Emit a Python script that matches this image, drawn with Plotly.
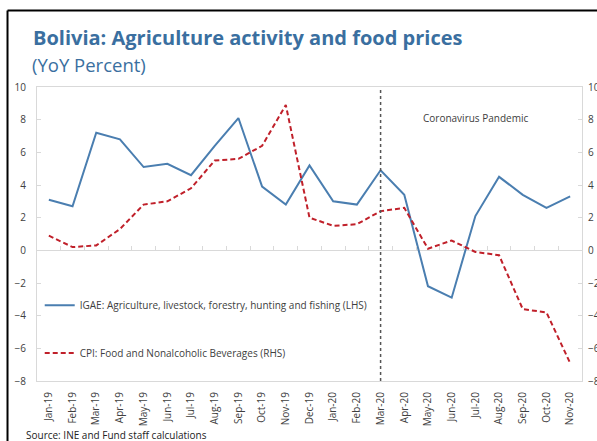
import plotly.graph_objects as go

months = ["Jan-19", "Feb-19", "Mar-19", "Apr-19", "May-19", "Jun-19", "Jul-19", "Aug-19",
          "Sep-19", "Oct-19", "Nov-19", "Dec-19", "Jan-20", "Feb-20", "Mar-20", "Apr-20",
          "May-20", "Jun-20", "Jul-20", "Aug-20", "Sep-20", "Oct-20", "Nov-20"]
igae = [3.1, 2.7, 7.2, 6.8, 5.1, 5.3, 4.6, 6.4, 8.1, 3.9, 2.8, 5.2, 3.0, 2.8, 4.9, 3.4,
        -2.2, -2.9, 2.1, 4.5, 3.4, 2.6, 3.3]
cpi = [0.9, 0.2, 0.3, 1.3, 2.8, 3.0, 3.8, 5.5, 5.6, 6.4, 8.9, 2.0, 1.5, 1.6, 2.4, 2.6,
       0.1, 0.6, -0.1, -0.3, -3.6, -3.8, -6.9]
y_range = [-8, 10]
y_ticks = [10, 8, 6, 4, 2, 0, -2, -4, -6, -8]
pandemic_start = "Mar-20"

BLUE = "#4a7eb0"
RED = "#c0202a"
TXT = "#404040"
GRID = "#d9d9d9"
FONT = "Open Sans"

fig = go.Figure()
fig.add_trace(go.Scatter(
    x=months, y=igae, mode="lines", name="IGAE: Agriculture, livestock, forestry, hunting and fishing (LHS)",
    line=dict(color=BLUE, width=2), legend="legend"))
fig.add_trace(go.Scatter(
    x=months, y=cpi, mode="lines", name="CPI: Food and Nonalcoholic Beverages (RHS)",
    line=dict(color=RED, width=2, dash="5px,3px"), yaxis="y2", legend="legend2"))
# helper trace to draw category-boundary ticks on the zero line
fig.add_trace(go.Scatter(x=months, y=[0] * len(months), mode="lines", opacity=0,
                         showlegend=False, hoverinfo="skip", xaxis="x2"))

zero_pos = (0 - y_range[0]) / (y_range[1] - y_range[0])

fig.update_layout(
    width=597, height=441,
    margin=dict(l=36.5, r=15.4, t=86.5, b=60, autoexpand=False),
    paper_bgcolor="white", plot_bgcolor="white",
    font=dict(family=FONT, size=10, color=TXT),
    xaxis=dict(type="category", categoryarray=months, range=[-0.5, len(months) - 0.5],
               showgrid=False, showline=True, linecolor=GRID, mirror=True,
               tickangle=-90, ticks="", ticklabelstandoff=6, automargin=False,
               tickfont=dict(size=10, color=TXT)),
    xaxis2=dict(type="category", categoryarray=months, range=[-0.5, len(months) - 0.5],
                overlaying="x", anchor="free", position=zero_pos, side="bottom",
                showgrid=False, showline=False, showticklabels=False, automargin=False,
                ticks="inside", tickson="boundaries", ticklen=4, tickcolor=GRID),
    yaxis=dict(range=y_range, tickvals=y_ticks, showgrid=False, showline=True,
               linecolor=GRID, mirror=True, zeroline=True, zerolinecolor=GRID,
               zerolinewidth=1, ticks="inside", ticklen=4, tickcolor=GRID, automargin=False,
               ticklabelstandoff=8, tickfont=dict(size=10, color=TXT)),
    yaxis2=dict(range=y_range, tickvals=y_ticks, overlaying="y", side="right",
                showgrid=False, showline=False, zeroline=False, ticks="inside",
                automargin=False, ticklen=4, tickcolor=GRID, ticklabelstandoff=5,
                tickfont=dict(size=10, color=TXT)),
    legend=dict(x=0.005, y=0.258, xanchor="left", yanchor="middle",
                bgcolor="rgba(0,0,0,0)", font=dict(size=10, color=TXT)),
    legend2=dict(x=0.005, y=0.095, xanchor="left", yanchor="middle",
                 bgcolor="rgba(0,0,0,0)", font=dict(size=10, color=TXT)),
    title=dict(text="<b>Bolivia: Agriculture activity and food prices</b>",
               x=33 / 597, xanchor="left", xref="container",
               y=1 - 38 / 441, yanchor="middle", yref="container",
               font=dict(family=FONT, size=20, color="#3a6fa0")),
    showlegend=True,
)

fig.add_shape(type="line", xref="x", yref="paper", x0=pandemic_start, x1=pandemic_start,
              y0=0, y1=1, line=dict(color="#555555", width=1.5, dash="dot"))

fig.add_annotation(text="Coronavirus Pandemic", xref="paper", yref="paper",
                   x=0.804, y=0.896, xanchor="center", yanchor="middle", showarrow=False,
                   font=dict(size=10, color=TXT))
fig.add_annotation(text="(YoY Percent)", xref="paper", yref="paper",
                   x=-0.012, y=1.076, xanchor="left", yanchor="middle", showarrow=False,
                   font=dict(size=18.5, color="#3a6fa0"))
fig.add_annotation(text="Source: INE and Fund staff calculations", xref="paper", yref="paper",
                   x=-0.024, y=-0.183, xanchor="left", yanchor="middle", showarrow=False,
                   font=dict(size=10, color="#222222"))

# black frame of the original screenshot (top and left edges)
fig.add_shape(type="line", xref="paper", yref="paper", x0=-0.0541, x1=1.05,
              y0=1.26, y1=1.26, line=dict(color="black", width=2))
fig.add_shape(type="line", xref="paper", yref="paper", x0=-0.0541, x1=-0.0541,
              y0=1.26, y1=-0.25, line=dict(color="black", width=2))

fig.write_html("out.html")
